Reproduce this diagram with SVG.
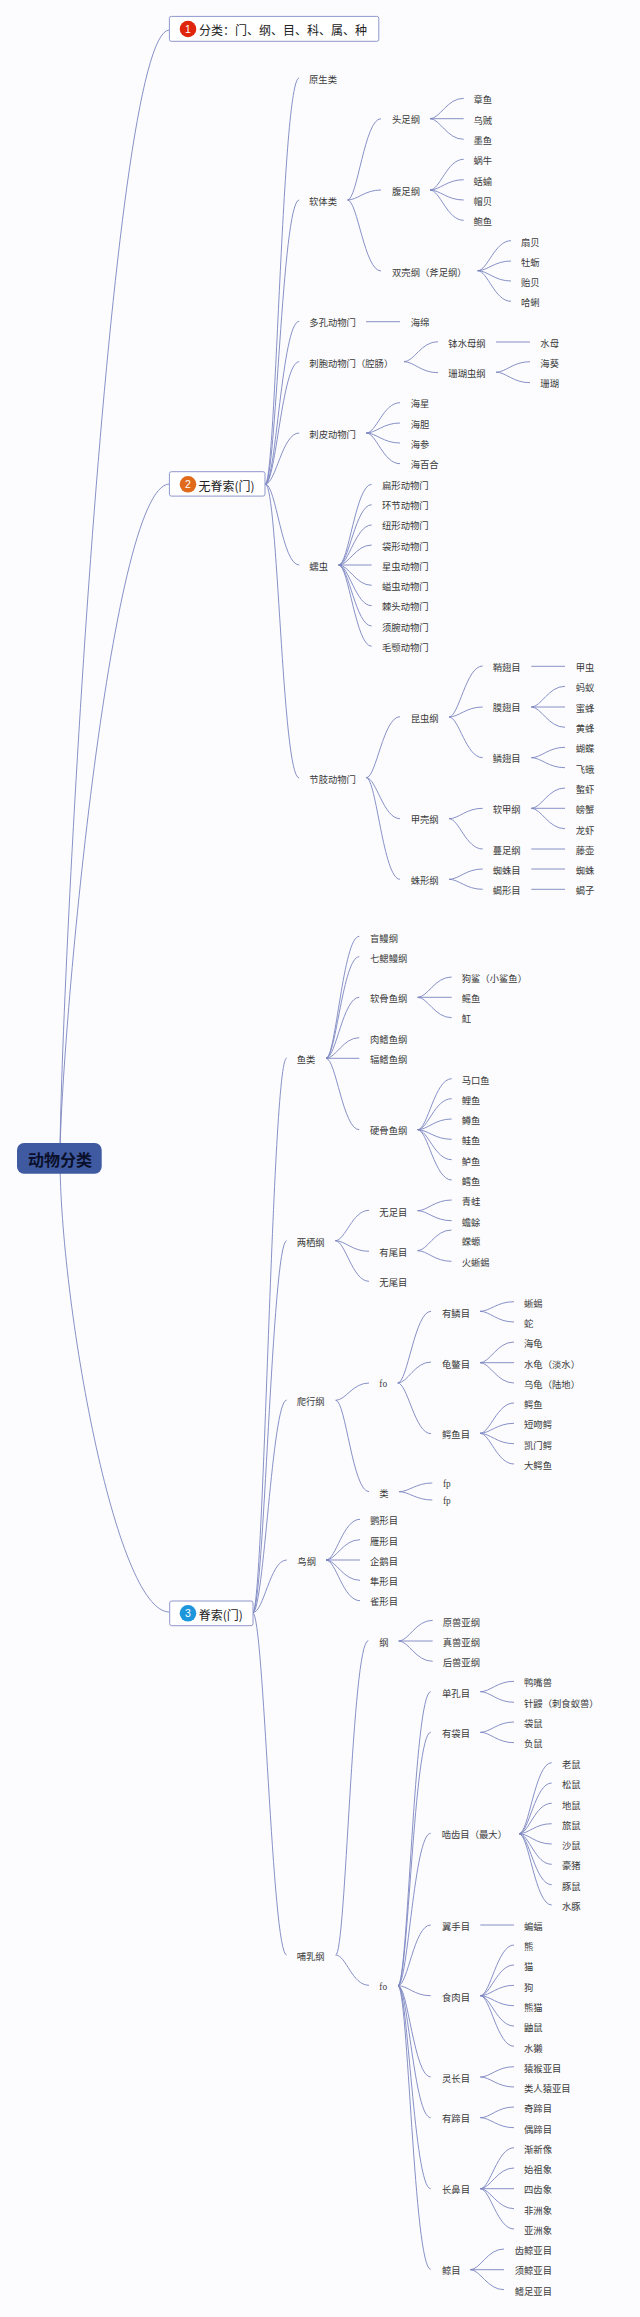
<svg xmlns="http://www.w3.org/2000/svg" width="640" height="2317" viewBox="0 0 640 2317">
<style>
text{font-family:"Noto Sans CJK SC","Liberation Sans",sans-serif;font-size:9.33px;fill:#3a3a3a;dominant-baseline:central}
.l{font-family:"Liberation Serif","Noto Sans CJK SC",serif}
.h{font-size:12px;fill:#222}
.n{font-family:"Liberation Sans",sans-serif;font-size:10.5px;fill:#fff;text-anchor:middle}
.r{fill:#fff;stroke:#8f97cc;stroke-width:1}
#connectors path{fill:none;stroke:#7b84c0;stroke-width:.9}
</style>
<rect width="640" height="2317" fill="#fcfcfe"/>
<g id="connectors">
<path d="M60 1158C60 1000 110 30 169.4 30"/>
<path d="M60 1158C60 1050 110 485 169.4 484"/>
<path d="M60 1158C60 1300 115 1612 169.4 1612"/>
<path d="M265.3 484C276 484 282 78 299.2 78"/>
<path d="M265.3 484C276 484 282 200 299.2 200"/>
<path d="M265.3 484C276 484 282 321.3 299.2 321.3"/>
<path d="M265.3 484C276 484 282 361.7 299.2 361.7"/>
<path d="M265.3 484C276 484 282 433 299.2 433"/>
<path d="M265.3 484C276 484 282 565 299.2 565"/>
<path d="M265.3 484C278 484 282 778 299.2 778"/>
<path d="M347.5 200C357.5 200 364.5 118.7 381 118.7"/>
<path d="M347.5 200C357.5 200 364.5 190 381 190"/>
<path d="M347.5 200C357.5 200 364.5 271 381 271"/>
<path d="M430 118.7C440 118.7 447 98.3 463.7 98.3"/>
<path d="M430 118.7H463.7"/>
<path d="M430 118.7C440 118.7 447 139.3 463.7 139.3"/>
<path d="M430 190C440 190 447 159.3 463.7 159.3"/>
<path d="M430 190C440 190 447 179.7 463.7 179.7"/>
<path d="M430 190C440 190 447 200 463.7 200"/>
<path d="M430 190C440 190 447 220.3 463.7 220.3"/>
<path d="M477.6 270.7C487.6 270.7 494.6 240.7 511 240.7"/>
<path d="M477.6 270.7C487.6 270.7 494.6 261 511 261"/>
<path d="M477.6 270.7C487.6 270.7 494.6 281 511 281"/>
<path d="M477.6 270.7C487.6 270.7 494.6 301.3 511 301.3"/>
<path d="M366 321.7H400"/>
<path d="M404 361.7C414 361.7 421 341.7 438 341.7"/>
<path d="M404 361.7C414 361.7 421 372.7 438 372.7"/>
<path d="M496 342H530"/>
<path d="M496 372.2C506 372.2 513 361.7 530 361.7"/>
<path d="M496 372.2C506 372.2 513 382.7 530 382.7"/>
<path d="M366.3 433C376.3 433 383.3 402.7 400 402.7"/>
<path d="M366.3 433C376.3 433 383.3 423 400 423"/>
<path d="M366.3 433C376.3 433 383.3 443 400 443"/>
<path d="M366.3 433C376.3 433 383.3 463.7 400 463.7"/>
<path d="M338.7 565C348.7 565 355.7 484.3 371.7 484.3"/>
<path d="M338.7 565C348.7 565 355.7 504.7 371.7 504.7"/>
<path d="M338.7 565C348.7 565 355.7 525 371.7 525"/>
<path d="M338.7 565C348.7 565 355.7 545 371.7 545"/>
<path d="M338.7 565H371.7"/>
<path d="M338.7 565C348.7 565 355.7 585.3 371.7 585.3"/>
<path d="M338.7 565C348.7 565 355.7 605.7 371.7 605.7"/>
<path d="M338.7 565C348.7 565 355.7 626 371.7 626"/>
<path d="M338.7 565C348.7 565 355.7 646.3 371.7 646.3"/>
<path d="M366.3 777.7C376.3 777.7 383.3 716.7 400 716.7"/>
<path d="M366.3 777.7C376.3 777.7 383.3 818.7 400 818.7"/>
<path d="M366.3 777.7C376.3 777.7 383.3 879.3 400 879.3"/>
<path d="M449 717C459 717 466 666 482.7 666"/>
<path d="M449 717C459 717 466 707 482.7 707"/>
<path d="M449 717C459 717 466 757.7 482.7 757.7"/>
<path d="M449 818.7C459 818.7 466 808.3 482.7 808.3"/>
<path d="M449 818.7C459 818.7 466 849 482.7 849"/>
<path d="M449 879.3C459 879.3 466 869 482.7 869"/>
<path d="M449 879.3C459 879.3 466 889.3 482.7 889.3"/>
<path d="M531.3 666.3H565"/>
<path d="M531.3 707C541.3 707 548.3 686.3 565 686.3"/>
<path d="M531.3 707H565"/>
<path d="M531.3 707C541.3 707 548.3 727.3 565 727.3"/>
<path d="M531.3 757.7C541.3 757.7 548.3 747.3 565 747.3"/>
<path d="M531.3 757.7C541.3 757.7 548.3 767.7 565 767.7"/>
<path d="M531.3 808.3C541.3 808.3 548.3 788 565 788"/>
<path d="M531.3 808.3H565"/>
<path d="M531.3 808.3C541.3 808.3 548.3 828.7 565 828.7"/>
<path d="M531.3 849H565"/>
<path d="M531.3 869H565"/>
<path d="M531.3 889.3H565"/>
<path d="M252.7 1612.7C264 1612.7 272 1058 286.7 1058"/>
<path d="M252.7 1612.7C264 1612.7 272 1240.7 286.7 1240.7"/>
<path d="M252.7 1612.7C264 1612.7 272 1400 286.7 1400"/>
<path d="M252.7 1612.7C264 1612.7 270 1560 286.7 1560"/>
<path d="M252.7 1612.7C264 1612.7 272 1955 286.7 1955"/>
<path d="M326 1058.3C336 1058.3 343 936.3 359.3 936.3"/>
<path d="M326 1058.3C336 1058.3 343 956.7 359.3 956.7"/>
<path d="M326 1058.3C336 1058.3 343 997.3 359.3 997.3"/>
<path d="M326 1058.3C336 1058.3 343 1037.7 359.3 1037.7"/>
<path d="M326 1058.3H359.3"/>
<path d="M326 1058.3C336 1058.3 343 1129.7 359.3 1129.7"/>
<path d="M417.7 997.3C427.7 997.3 434.7 977 451.7 977"/>
<path d="M417.7 997.3H451.7"/>
<path d="M417.7 997.3C427.7 997.3 434.7 1017.7 451.7 1017.7"/>
<path d="M417.7 1129.7C427.7 1129.7 434.7 1078.7 451.7 1078.7"/>
<path d="M417.7 1129.7C427.7 1129.7 434.7 1098.7 451.7 1098.7"/>
<path d="M417.7 1129.7C427.7 1129.7 434.7 1119 451.7 1119"/>
<path d="M417.7 1129.7C427.7 1129.7 434.7 1139.3 451.7 1139.3"/>
<path d="M417.7 1129.7C427.7 1129.7 434.7 1159.7 451.7 1159.7"/>
<path d="M417.7 1129.7C427.7 1129.7 434.7 1180 451.7 1180"/>
<path d="M335.3 1240.7C345.3 1240.7 352.3 1210.3 369 1210.3"/>
<path d="M335.3 1240.7C345.3 1240.7 352.3 1251.3 369 1251.3"/>
<path d="M335.3 1240.7C345.3 1240.7 352.3 1281.3 369 1281.3"/>
<path d="M417.5 1210.7C427.5 1210.7 434.5 1200 451.7 1200"/>
<path d="M417.5 1210.7C427.5 1210.7 434.5 1220.7 451.7 1220.7"/>
<path d="M417.5 1250.7C427.5 1250.7 434.5 1230 451.5 1230"/>
<path d="M417.5 1250.7C427.5 1250.7 434.5 1261.3 451.5 1261.3"/>
<path d="M335.7 1400.3C345.7 1400.3 352.7 1383 369 1383"/>
<path d="M335.7 1400.3C345.7 1400.3 352.7 1491.7 369 1491.7"/>
<path d="M397.7 1383C407.7 1383 414.7 1311.3 431 1311.3"/>
<path d="M397.7 1383C407.7 1383 414.7 1362 431 1362"/>
<path d="M397.7 1383C407.7 1383 414.7 1433.7 431 1433.7"/>
<path d="M399 1491.7C409 1491.7 416 1483 432.3 1483"/>
<path d="M399 1491.7C409 1491.7 416 1500 432.3 1500"/>
<path d="M480 1311.3C490 1311.3 497 1301.7 514 1301.7"/>
<path d="M480 1311.3C490 1311.3 497 1322 514 1322"/>
<path d="M480 1362.7C490 1362.7 497 1342 514 1342"/>
<path d="M480 1362.7H514"/>
<path d="M480 1362.7C490 1362.7 497 1383 514 1383"/>
<path d="M480 1433.3C490 1433.3 497 1403 514 1403"/>
<path d="M480 1433.3C490 1433.3 497 1423.3 514 1423.3"/>
<path d="M480 1433.3C490 1433.3 497 1443.7 514 1443.7"/>
<path d="M480 1433.3C490 1433.3 497 1464 514 1464"/>
<path d="M326 1560C336 1560 343 1519.3 360 1519.3"/>
<path d="M326 1560C336 1560 343 1539.7 360 1539.7"/>
<path d="M326 1560H360"/>
<path d="M326 1560C336 1560 343 1580.3 360 1580.3"/>
<path d="M326 1560C336 1560 343 1600.7 360 1600.7"/>
<path d="M335.7 1955C346 1955 352 1640.7 368.3 1640.7"/>
<path d="M335.7 1955C346 1955 352 1985.3 369 1985.3"/>
<path d="M398.7 1641C408.7 1641 415.7 1620.3 432.7 1620.3"/>
<path d="M398.7 1641H432.7"/>
<path d="M398.7 1641C408.7 1641 415.7 1661.3 432.7 1661.3"/>
<path d="M398 1985.7C408 1985.7 414 1691.7 430.7 1691.7"/>
<path d="M398 1985.7C408 1985.7 414 1732.3 430.7 1732.3"/>
<path d="M398 1985.7C408 1985.7 414 1833.3 430.7 1833.3"/>
<path d="M398 1985.7C408 1985.7 414 1925 430.7 1925"/>
<path d="M398 1985.7C408 1985.7 414 1995.7 430.7 1995.7"/>
<path d="M398 1985.7C408 1985.7 414 2077 430.7 2077"/>
<path d="M398 1985.7C408 1985.7 414 2117.7 430.7 2117.7"/>
<path d="M398 1985.7C408 1985.7 414 2188.7 430.7 2188.7"/>
<path d="M398 1985.7C408 1985.7 414 2269.3 430.7 2269.3"/>
<path d="M480.3 1691.7C490.3 1691.7 497.3 1681.3 514 1681.3"/>
<path d="M480.3 1691.7C490.3 1691.7 497.3 1702.3 514 1702.3"/>
<path d="M480.3 1732.3C490.3 1732.3 497.3 1722 514 1722"/>
<path d="M480.3 1732.3C490.3 1732.3 497.3 1742.7 514 1742.7"/>
<path d="M519 1833.7C529 1833.7 535 1762.7 551.7 1762.7"/>
<path d="M519 1833.7C529 1833.7 535 1783 551.7 1783"/>
<path d="M519 1833.7C529 1833.7 535 1803.3 551.7 1803.3"/>
<path d="M519 1833.7C529 1833.7 535 1823.7 551.7 1823.7"/>
<path d="M519 1833.7C529 1833.7 535 1844 551.7 1844"/>
<path d="M519 1833.7C529 1833.7 535 1864.3 551.7 1864.3"/>
<path d="M519 1833.7C529 1833.7 535 1884.7 551.7 1884.7"/>
<path d="M519 1833.7C529 1833.7 535 1905 551.7 1905"/>
<path d="M480.3 1925H514"/>
<path d="M480.3 1995.7C490.3 1995.7 497.3 1945 514 1945"/>
<path d="M480.3 1995.7C490.3 1995.7 497.3 1965 514 1965"/>
<path d="M480.3 1995.7C490.3 1995.7 497.3 1985.3 514 1985.3"/>
<path d="M480.3 1995.7C490.3 1995.7 497.3 2005.7 514 2005.7"/>
<path d="M480.3 1995.7C490.3 1995.7 497.3 2026 514 2026"/>
<path d="M480.3 1995.7C490.3 1995.7 497.3 2046.3 514 2046.3"/>
<path d="M480.3 2077C490.3 2077 497.3 2066.7 514 2066.7"/>
<path d="M480.3 2077C490.3 2077 497.3 2087 514 2087"/>
<path d="M480.3 2117.7C490.3 2117.7 497.3 2107 514 2107"/>
<path d="M480.3 2117.7C490.3 2117.7 497.3 2127.7 514 2127.7"/>
<path d="M480.3 2188.7C490.3 2188.7 497.3 2147.7 514 2147.7"/>
<path d="M480.3 2188.7C490.3 2188.7 497.3 2168 514 2168"/>
<path d="M480.3 2188.7H514"/>
<path d="M480.3 2188.7C490.3 2188.7 497.3 2208.7 514 2208.7"/>
<path d="M480.3 2188.7C490.3 2188.7 497.3 2229 514 2229"/>
<path d="M470.3 2269.7C480.3 2269.7 487.3 2249 504 2249"/>
<path d="M470.3 2269.7H504"/>
<path d="M470.3 2269.7C480.3 2269.7 487.3 2289.7 504 2289.7"/>
</g>
<g id="root"><rect x="17" y="1143" width="84.7" height="30.7" rx="7" fill="#3f5aa0"/><text x="60" y="1158.5" text-anchor="middle" style="font-size:16px;font-weight:700;fill:#0a0f2a">动物分类</text></g>
<g id="topic1"><rect class="r" x="169.4" y="16.4" width="209.4" height="24.9" rx="2"/><circle cx="188" cy="29" r="8.3" fill="#e0250d"/><text class="n" x="188" y="29">1</text><text class="h" x="199" y="29.5">分类：门、纲、目、科、属、种</text></g>
<g id="topic2"><rect class="r" x="169.4" y="471.7" width="95.6" height="24.4" rx="2"/><circle cx="188" cy="484.3" r="8.3" fill="#e0691a"/><text class="n" x="188" y="484.3">2</text><text class="h" x="198.5" y="485">无脊索(门)</text></g>
<g id="topic3"><rect class="r" x="169.7" y="1601" width="83.3" height="24.7" rx="2"/><circle cx="188" cy="1613.3" r="8.3" fill="#1e96dc"/><text class="n" x="188" y="1613.3">3</text><text class="h" x="198.7" y="1614">脊索(门)</text></g>
<g id="a1"><text x="309" y="79">原生类</text></g>
<g id="a2"><text x="309" y="200.7">软体类</text></g>
<g id="a2a"><text x="392" y="119.3">头足纲</text></g>
<g id="a2a1"><text x="473.5" y="99">章鱼</text></g>
<g id="a2a2"><text x="473.5" y="119.7">乌贼</text></g>
<g id="a2a3"><text x="473.5" y="139.7">墨鱼</text></g>
<g id="a2b"><text x="392" y="190.7">腹足纲</text></g>
<g id="a2b1"><text x="473.5" y="160.3">蜗牛</text></g>
<g id="a2b2"><text x="473.5" y="180.7">蛞蝓</text></g>
<g id="a2b3"><text x="473.5" y="200.7">帽贝</text></g>
<g id="a2b4"><text x="473.5" y="221">鲍鱼</text></g>
<g id="a2c"><text x="392" y="271.7">双壳纲（斧足纲）</text></g>
<g id="a2c1"><text x="521" y="241.7">扇贝</text></g>
<g id="a2c2"><text x="521" y="261.7">牡蛎</text></g>
<g id="a2c3"><text x="521" y="282">贻贝</text></g>
<g id="a2c4"><text x="521" y="302">哈蜊</text></g>
<g id="a3"><text x="309.3" y="322.3">多孔动物门</text></g>
<g id="a3a"><text x="410.7" y="322.3">海绵</text></g>
<g id="a4"><text x="309.3" y="363">刺胞动物门（腔肠）</text></g>
<g id="a4a"><text x="448.3" y="342.7">钵水母纲</text></g>
<g id="a4a1"><text x="540.3" y="342.7">水母</text></g>
<g id="a4b"><text x="448.3" y="373.3">珊瑚虫纲</text></g>
<g id="a4b1"><text x="540.3" y="363.3">海葵</text></g>
<g id="a4b2"><text x="540.3" y="383.3">珊瑚</text></g>
<g id="a5"><text x="309.3" y="434">刺皮动物门</text></g>
<g id="a5a"><text x="410.7" y="403.3">海星</text></g>
<g id="a5b"><text x="410.7" y="424">海胆</text></g>
<g id="a5c"><text x="410.7" y="444">海参</text></g>
<g id="a5d"><text x="410.7" y="464.3">海百合</text></g>
<g id="a6"><text x="309.3" y="565.7">蠕虫</text></g>
<g id="a6a"><text x="382" y="485">扁形动物门</text></g>
<g id="a6b"><text x="382" y="505">环节动物门</text></g>
<g id="a6c"><text x="382" y="525.3">纽形动物门</text></g>
<g id="a6d"><text x="382" y="545.7">袋形动物门</text></g>
<g id="a6e"><text x="382" y="566">星虫动物门</text></g>
<g id="a6f"><text x="382" y="586">螠虫动物门</text></g>
<g id="a6g"><text x="382" y="606.3">棘头动物门</text></g>
<g id="a6h"><text x="382" y="626.7">须腕动物门</text></g>
<g id="a6i"><text x="382" y="647">毛颚动物门</text></g>
<g id="a7"><text x="309.3" y="778.7">节肢动物门</text></g>
<g id="a7a"><text x="410.7" y="718">昆虫纲</text></g>
<g id="a7b"><text x="410.7" y="819">甲壳纲</text></g>
<g id="a7c"><text x="410.7" y="880">蛛形纲</text></g>
<g id="a7a1"><text x="492.7" y="667">鞘翅目</text></g>
<g id="a7a2"><text x="492.7" y="707.3">膜翅目</text></g>
<g id="a7a3"><text x="492.7" y="758">鳞翅目</text></g>
<g id="a7b1"><text x="492.7" y="809">软甲纲</text></g>
<g id="a7b2"><text x="492.7" y="849.7">蔓足纲</text></g>
<g id="a7c1"><text x="492.7" y="870">蜘蛛目</text></g>
<g id="a7c2"><text x="492.7" y="890.3">蝎形目</text></g>
<g id="l1"><text x="575.7" y="667">甲虫</text></g>
<g id="l2"><text x="575.7" y="687.3">蚂蚁</text></g>
<g id="l3"><text x="575.7" y="707.7">蜜蜂</text></g>
<g id="l4"><text x="575.7" y="728">黄蜂</text></g>
<g id="l5"><text x="575.7" y="748.3">蝴蝶</text></g>
<g id="l6"><text x="575.7" y="768.7">飞蛾</text></g>
<g id="l7"><text x="575.7" y="788.7">螯虾</text></g>
<g id="l8"><text x="575.7" y="809.3">螃蟹</text></g>
<g id="l9"><text x="575.7" y="829.7">龙虾</text></g>
<g id="l10"><text x="575.7" y="849.7">藤壶</text></g>
<g id="l11"><text x="575.7" y="870">蜘蛛</text></g>
<g id="l12"><text x="575.7" y="890.3">蝎子</text></g>
<g id="b1"><text x="296.7" y="1059">鱼类</text></g>
<g id="b1a"><text x="370" y="937.7">盲鳗纲</text></g>
<g id="b1b"><text x="370" y="958">七鳃鳗纲</text></g>
<g id="b1c"><text x="370" y="998.3">软骨鱼纲</text></g>
<g id="b1d"><text x="370" y="1039">肉鳍鱼纲</text></g>
<g id="b1e"><text x="370" y="1059">辐鳍鱼纲</text></g>
<g id="b1f"><text x="370" y="1130.3">硬骨鱼纲</text></g>
<g id="b1c1"><text x="461.7" y="978">狗鲨（小鲨鱼）</text></g>
<g id="b1c2"><text x="461.7" y="998.3">鳐鱼</text></g>
<g id="b1c3"><text x="461.7" y="1018.3">魟</text></g>
<g id="b1f1"><text x="461.7" y="1079.7">马口鱼</text></g>
<g id="b1f2"><text x="461.7" y="1100">鲤鱼</text></g>
<g id="b1f3"><text x="461.7" y="1120">鳟鱼</text></g>
<g id="b1f4"><text x="461.7" y="1140.3">鲑鱼</text></g>
<g id="b1f5"><text x="461.7" y="1160.7">鲈鱼</text></g>
<g id="b1f6"><text x="461.7" y="1180.7">鳕鱼</text></g>
<g id="b2"><text x="296.7" y="1241.7">两栖纲</text></g>
<g id="b2a"><text x="379.3" y="1211.7">无足目</text></g>
<g id="b2a1"><text x="461.7" y="1201.3">青蛙</text></g>
<g id="b2a2"><text x="461.7" y="1221.7">蟾蜍</text></g>
<g id="b2b"><text x="379.3" y="1251.7">有尾目</text></g>
<g id="b2b1"><text x="461.7" y="1241">蝾螈</text></g>
<g id="b2b2"><text x="461.7" y="1262">火蜥蜴</text></g>
<g id="b2c"><text x="379.3" y="1282.3">无尾目</text></g>
<g id="b3"><text x="296.7" y="1401.3">爬行纲</text></g>
<g id="b3a"><text class="l" x="379.3" y="1383.7">fo</text></g>
<g id="b3b"><text x="379.3" y="1492.7">类</text></g>
<g id="b3a1"><text x="442" y="1312.7">有鳞目</text></g>
<g id="b3a2"><text x="442" y="1363.7">龟鳖目</text></g>
<g id="b3a3"><text x="442" y="1434.3">鳄鱼目</text></g>
<g id="b3c1"><text x="524" y="1302.7">蜥蜴</text></g>
<g id="b3c2"><text x="524" y="1323">蛇</text></g>
<g id="b3c3"><text x="524" y="1343.3">海龟</text></g>
<g id="b3c4"><text x="524" y="1363.7">水龟（淡水）</text></g>
<g id="b3c5"><text x="524" y="1383.7">乌龟（陆地）</text></g>
<g id="b3c6"><text x="524" y="1404">鳄鱼</text></g>
<g id="b3c7"><text x="524" y="1424.3">短吻鳄</text></g>
<g id="b3c8"><text x="524" y="1444.7">凯门鳄</text></g>
<g id="b3c9"><text x="524" y="1465">大鳄鱼</text></g>
<g id="b3b1"><text class="l" x="443" y="1484">fp</text></g>
<g id="b3b2"><text class="l" x="443" y="1501.3">fp</text></g>
<g id="b4"><text x="297.3" y="1560.7">鸟纲</text></g>
<g id="b4a"><text x="370" y="1520.3">鹦形目</text></g>
<g id="b4b"><text x="370" y="1540.7">雁形目</text></g>
<g id="b4c"><text x="370" y="1560.7">企鹅目</text></g>
<g id="b4d"><text x="370" y="1581">隼形目</text></g>
<g id="b4e"><text x="370" y="1601.3">雀形目</text></g>
<g id="b5"><text x="296.7" y="1956">哺乳纲</text></g>
<g id="b5a"><text x="379.3" y="1642.3">纲</text></g>
<g id="b5a1"><text x="442.7" y="1621.7">原兽亚纲</text></g>
<g id="b5a2"><text x="442.7" y="1642">真兽亚纲</text></g>
<g id="b5a3"><text x="442.7" y="1662.3">后兽亚纲</text></g>
<g id="b5b"><text class="l" x="379.3" y="1986.7">fo</text></g>
<g id="m1"><text x="442" y="1692.7">单孔目</text></g>
<g id="m1a"><text x="524" y="1682.3">鸭嘴兽</text></g>
<g id="m1b"><text x="524" y="1702.7">针鼹（刺食蚁兽）</text></g>
<g id="m2"><text x="442" y="1733.3">有袋目</text></g>
<g id="m2a"><text x="524" y="1723.3">袋鼠</text></g>
<g id="m2b"><text x="524" y="1743.3">负鼠</text></g>
<g id="m3"><text x="441.7" y="1834.3">啮齿目（最大）</text></g>
<g id="m3a"><text x="562" y="1764">老鼠</text></g>
<g id="m3b"><text x="562" y="1784.3">松鼠</text></g>
<g id="m3c"><text x="562" y="1804.7">地鼠</text></g>
<g id="m3d"><text x="562" y="1824.7">旅鼠</text></g>
<g id="m3e"><text x="562" y="1845">沙鼠</text></g>
<g id="m3f"><text x="562" y="1865.3">豪猪</text></g>
<g id="m3g"><text x="562" y="1885.7">豚鼠</text></g>
<g id="m3h"><text x="562" y="1905.7">水豚</text></g>
<g id="m4"><text x="442" y="1925.7">翼手目</text></g>
<g id="m4a"><text x="524" y="1925.7">蝙蝠</text></g>
<g id="m5"><text x="442" y="1996.7">食肉目</text></g>
<g id="m5a"><text x="524" y="1946">熊</text></g>
<g id="m5b"><text x="524" y="1966.3">猫</text></g>
<g id="m5c"><text x="524" y="1986.7">狗</text></g>
<g id="m5d"><text x="524" y="2007">熊猫</text></g>
<g id="m5e"><text x="524" y="2027.3">鼬鼠</text></g>
<g id="m5f"><text x="524" y="2047.7">水獭</text></g>
<g id="m6"><text x="442" y="2077.7">灵长目</text></g>
<g id="m6a"><text x="524" y="2067.7">猿猴亚目</text></g>
<g id="m6b"><text x="524" y="2088">类人猿亚目</text></g>
<g id="m7"><text x="442" y="2118.3">有蹄目</text></g>
<g id="m7a"><text x="524" y="2108.3">奇蹄目</text></g>
<g id="m7b"><text x="524" y="2128.7">偶蹄目</text></g>
<g id="m8"><text x="442" y="2189.3">长鼻目</text></g>
<g id="m8a"><text x="524" y="2149">渐新像</text></g>
<g id="m8b"><text x="524" y="2169">始祖象</text></g>
<g id="m8c"><text x="524" y="2189.3">四齿象</text></g>
<g id="m8d"><text x="524" y="2209.7">非洲象</text></g>
<g id="m8e"><text x="524" y="2230">亚洲象</text></g>
<g id="m9"><text x="442" y="2270.3">鲸目</text></g>
<g id="m9a"><text x="514.7" y="2250.3">齿鲸亚目</text></g>
<g id="m9b"><text x="514.7" y="2270.3">须鲸亚目</text></g>
<g id="m9c"><text x="514.7" y="2290.7">鳍足亚目</text></g>
</svg>
